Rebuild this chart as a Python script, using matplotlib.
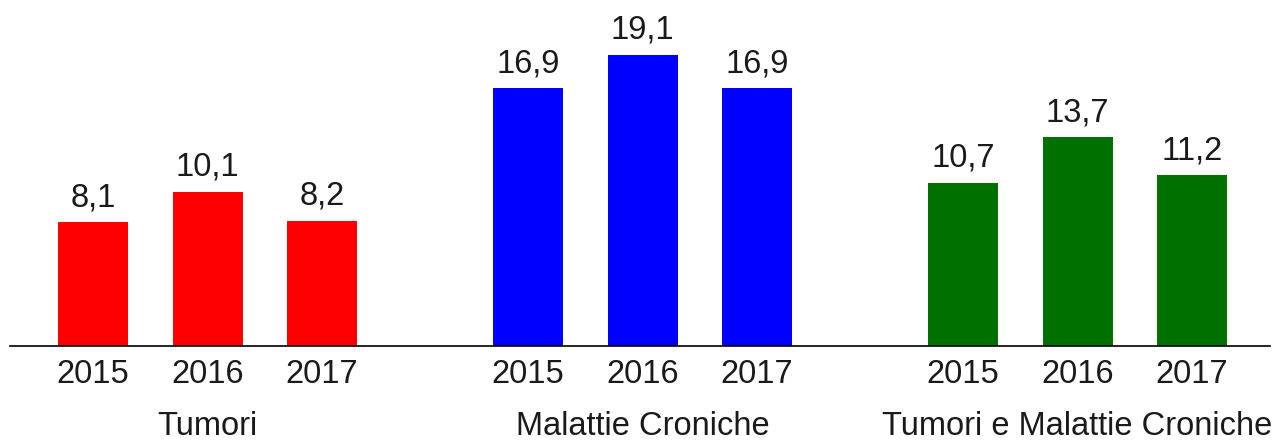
import numpy as np
import matplotlib.pyplot as plt

plt.rcParams['font.family'] = ['Liberation Sans', 'DejaVu Sans']

groups = ['Tumori', 'Malattie Croniche', 'Tumori e Malattie Croniche']
years = ['2015', '2016', '2017']
tumori = [8.1, 10.1, 8.2]
croniche = [16.9, 19.1, 16.9]
entrambi = [10.7, 13.7, 11.2]
colors = ['#ff0000', '#0000ff', '#007100']

fig = plt.figure(figsize=(12.79, 4.4), dpi=100)
ax = fig.add_axes([10/1279, 94/440, 1260/1279, 305/440])

step = 114.5
group_step = 435
first = 93
txt = '#1a1a1a'
fs = 23.5

for g, (name, vals) in enumerate(zip(groups, [tumori, croniche, entrambi])):
    xs = first + g*group_step + np.arange(len(vals))*step
    ax.bar(xs, vals, width=70, color=colors[g])
    for x, v, y in zip(xs, vals, years):
        ax.annotate(f'{v:.1f}'.replace('.', ','), (x, v), xytext=(0, 16),
                    textcoords='offset pixels', ha='center', va='baseline',
                    fontsize=fs, color=txt)
        ax.annotate(y, (x, 0), xytext=(0, -37), textcoords='offset pixels',
                    ha='center', va='baseline', fontsize=fs, color=txt)
    ax.annotate(name, (xs[1], 0), xytext=(0, -89), textcoords='offset pixels',
                ha='center', va='baseline', fontsize=fs, color=txt,
                annotation_clip=False)

ax.set_xlim(10, 1270)
ax.set_ylim(0, 20)
for s in ['top', 'left', 'right']:
    ax.spines[s].set_visible(False)
ax.spines['bottom'].set_linewidth(1.2)
ax.set_xticks([])
ax.set_yticks([])

fig.savefig('out.png', dpi=100)
